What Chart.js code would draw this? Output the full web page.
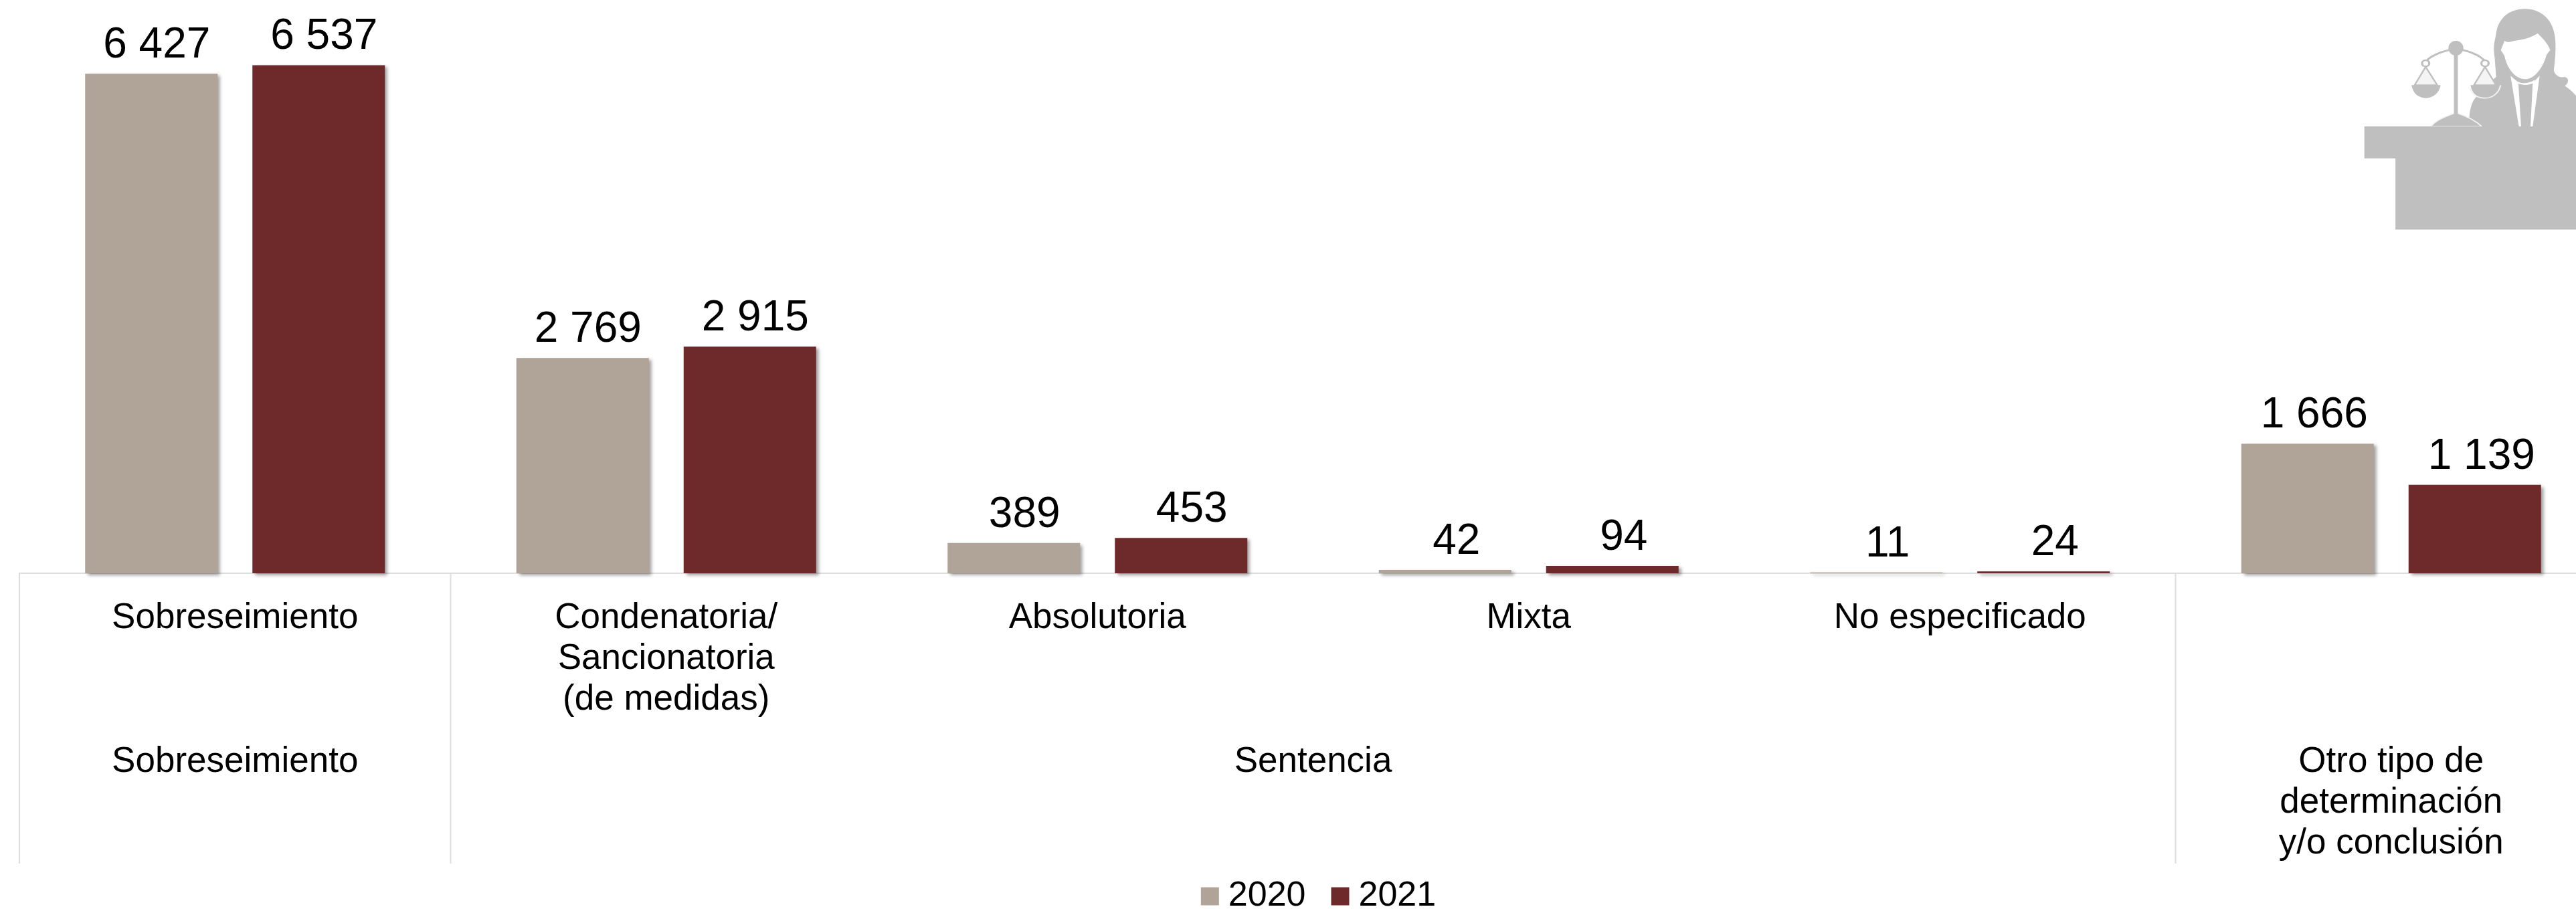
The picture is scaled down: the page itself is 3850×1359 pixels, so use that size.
<!DOCTYPE html>
<html lang="es">
<head>
<meta charset="utf-8">
<title>Determinaciones 2020 y 2021</title>
<style>
html,body{margin:0;padding:0;width:3850px;height:1359px;overflow:hidden;background:#fff}
canvas{display:block}
</style>
<script src="https://cdn.jsdelivr.net/npm/chart.js@4"></script>
</head>
<body>
<canvas id="c" width="3930" height="1376" style="width:3930px;height:1376px"></canvas>
<script>
const categories = [
  'Sobreseimiento',
  ['Condenatoria/', 'Sancionatoria', '(de medidas)'],
  'Absolutoria',
  'Mixta',
  'No especificado',
  ''
];
const values2020 = [6427, 2769, 389, 42, 11, 1666];
const values2021 = [6537, 2915, 453, 94, 24, 1139];
const seriesNames = ['2020', '2021'];
const groupLabels = [['Sobreseimiento'], ['Sentencia'], ['Otro tipo de', 'determinación', 'y/o conclusión']];
const groupSpans = [1, 4, 1];
const labelShiftX = [8, 8, 16, 17, 17, 10];

const FONT = '"Liberation Sans", Arial, sans-serif';
const COL_2020 = '#B0A397';
const COL_2021 = '#6E2A2A';
const RULE = '#DDDDDD';
const fmt = v => String(v).replace(/\B(?=(\d{3})+$)/g, ' ');

const legendNudge = {
  id: 'legendNudge',
  afterLayout(chart) { chart.legend.left += 28; }
};

const barShadow = {
  id: 'barShadow',
  beforeDatasetDraw(chart) {
    const c = chart.ctx;
    c.save();
    c.shadowColor = 'rgba(0,0,0,0.38)';
    c.shadowBlur = 5;
    c.shadowOffsetX = 4;
    c.shadowOffsetY = 3;
  },
  afterDatasetDraw(chart) { chart.ctx.restore(); }
};

const valueLabels = {
  id: 'valueLabels',
  afterDatasetsDraw(chart) {
    const c = chart.ctx;
    c.save();
    c.font = '64px ' + FONT;
    c.fillStyle = '#000';
    c.textAlign = 'center';
    c.textBaseline = 'alphabetic';
    chart.data.datasets.forEach((ds, i) => {
      chart.getDatasetMeta(i).data.forEach((bar, j) => {
        c.fillText(fmt(ds.data[j]), bar.x + labelShiftX[j], bar.y - 24);
      });
    });
    c.restore();
  }
};

const groupAxis = {
  id: 'groupAxis',
  afterDraw(chart) {
    const c = chart.ctx, x = chart.scales.x;
    const step = x.getPixelForValue(1) - x.getPixelForValue(0);
    let edge = x.getPixelForValue(0) - step / 2;
    const y0 = x.top, yEnd = 1291;
    c.save();
    c.strokeStyle = RULE;
    c.lineWidth = 2;
    c.font = '53px ' + FONT;
    c.fillStyle = '#000';
    c.textAlign = 'center';
    c.textBaseline = 'middle';
    const line = px => { c.beginPath(); c.moveTo(px, y0); c.lineTo(px, yEnd); c.stroke(); };
    groupSpans.forEach((span, i) => {
      line(edge);
      const mid = edge + span * step / 2;
      groupLabels[i].forEach((t, k) => c.fillText(t, mid, 1139 + k * 61));
      edge += span * step;
    });
    c.restore();
  }
};

const ICON = {
  person: 'M1385 40C1320 40 1287 90 1280 150C1275 190 1268 200 1275 260L1280 345C1260 365 1205 430 1195 460C1185 490 1183 510 1183 567L1568 567L1568 430C1552 405 1535 392 1528 385C1545 372 1542 345 1525 345C1510 352 1490 335 1488 315C1495 250 1497 190 1490 150C1480 85 1440 40 1385 40Z',
  face: 'M1310 183C1318 190 1330 190 1345 183C1385 178 1410 165 1430 150C1445 170 1465 190 1475 225L1462 245C1450 300 1420 355 1385 355C1350 355 1320 310 1310 250L1297 225Z',
  shirtL: 'M1332 340L1360 370L1370 567L1362 567Z',
  shirtR: 'M1437 340L1412 372L1404 567L1412 567Z',
  collar: 'M1348 358C1365 378 1395 378 1420 358L1415 372C1395 385 1370 382 1355 372Z',
  desk: 'M805 567L1568 567L1568 1030L917 1030L917 710L805 710Z',
  base: 'M1045 567C1065 535 1100 522 1135 505C1170 520 1205 540 1228 567Z',
  panL: 'M975 382L1080 382C1075 420 1050 440 1027 440C1000 440 980 420 975 382Z',
  panR: 'M1188 382L1296 382C1290 420 1265 440 1240 440C1213 440 1192 420 1188 382Z',
  triL: 'M1026 300L986 382L1068 382Z',
  triR: 'M1240 300L1200 382L1280 382Z',
  beam: 'M1026 275C1050 245 1090 228 1135 218C1180 228 1220 245 1240 275'
};
const iconPlugin = {
  id: 'icon',
  beforeDraw(chart) {
    const c = chart.ctx, G = '#BFBFBF';
    const P = s => new Path2D(ICON[s]);
    c.save();
    c.translate(3200, 0);
    c.scale(650 / 1568, 1 / 3);
    c.lineJoin = 'round';
    c.fillStyle = G;
    c.fill(P('person'));
    c.fillStyle = '#fff';
    ['face', 'shirtL', 'shirtR', 'collar'].forEach(s => c.fill(P(s)));
    c.fillStyle = G;
    c.strokeStyle = '#F4F4F4';
    c.lineWidth = 5;
    c.fill(P('base')); c.stroke(P('base'));
    c.fill(P('desk'));
    c.fillRect(1128, 240, 14, 270);
    c.beginPath(); c.ellipse(1135, 216, 27, 33, 0, 0, Math.PI * 2); c.fill();
    c.strokeStyle = G;
    c.lineWidth = 8;
    c.stroke(P('beam'));
    [[1026, 'triL', 'panL'], [1240, 'triR', 'panR']].forEach(([x, tri, pan]) => {
      c.fillStyle = '#fff';
      c.beginPath(); c.ellipse(x, 284, 13, 14, 0, 0, Math.PI * 2); c.fill(); c.stroke();
      c.fillStyle = '#F4F4F4';
      c.fill(P(tri)); c.lineWidth = 6; c.stroke(P(tri)); c.lineWidth = 8;
      c.fillStyle = G;
      c.fill(P(pan));
    });
    c.strokeStyle = '#F4F4F4';
    c.lineWidth = 5;
    c.stroke(new Path2D('M1296 382C1290 420 1265 440 1240 440C1213 440 1195 425 1188 400'));
    c.restore();
  }
};

new Chart(document.getElementById('c'), {
  type: 'bar',
  data: {
    labels: categories,
    datasets: [
      { label: seriesNames[0], data: values2020, backgroundColor: COL_2020, clip: false,
        categoryPercentage: 0.7758, barPercentage: 0.792 },
      { label: seriesNames[1], data: values2021, backgroundColor: COL_2021, clip: false,
        categoryPercentage: 0.7758, barPercentage: 0.792 }
    ]
  },
  plugins: [legendNudge, iconPlugin, barShadow, valueLabels, groupAxis],
  options: {
    responsive: false,
    animation: false,
    devicePixelRatio: 1,
    layout: { padding: { left: 29, right: 34, top: 0, bottom: 0 } },
    plugins: {
      title: { display: false },
      tooltip: { enabled: false },
      legend: {
        display: true,
        position: 'bottom',
        labels: {
          color: '#000',
          font: { family: FONT, size: 52 },
          usePointStyle: true,
          pointStyle: 'rect',
          boxWidth: 3,
          boxHeight: 27,
          padding: 50
        }
      }
    },
    scales: {
      x: {
        grid: { display: false },
        border: { display: true, color: RULE, width: 2 },
        afterFit(scale) { scale.height = 407; },
        ticks: {
          autoSkip: false,
          maxRotation: 0,
          minRotation: 0,
          padding: 29,
          color: '#000',
          font: { family: FONT, size: 53, lineHeight: 1.15 }
        }
      },
      y: { display: false, min: 0, max: 7375, grid: { display: false } }
    }
  }
});
</script>
</body>
</html>
